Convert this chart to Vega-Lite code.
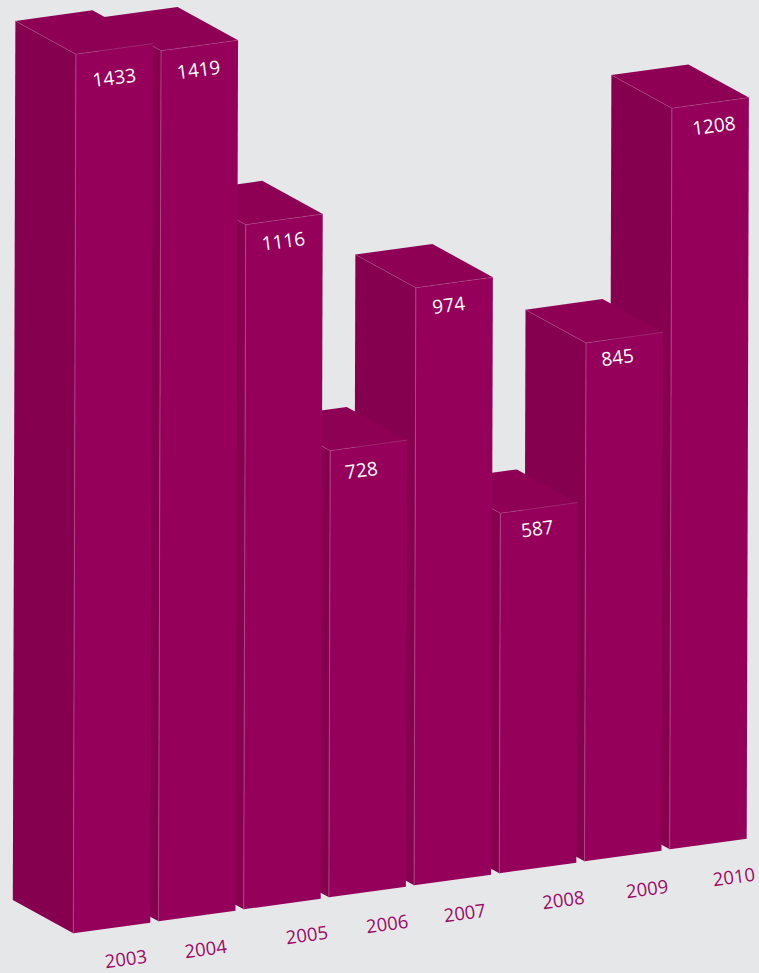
{
  "$schema": "https://vega.github.io/schema/vega-lite/v6.json",
  "width": 759,
  "height": 973,
  "padding": 0,
  "autosize": {"type": "none"},
  "background": "#e6e7e8",
  "config": {"view": {"stroke": null}},
  "data": {
    "values": [
      {"year": 2010, "value": 1208},
      {"year": 2009, "value": 845},
      {"year": 2008, "value": 587},
      {"year": 2007, "value": 974},
      {"year": 2006, "value": 728},
      {"year": 2005, "value": 1116},
      {"year": 2004, "value": 1419},
      {"year": 2003, "value": 1433}
    ]
  },
  "transform": [
    {"calculate": "datum.year - 2003", "as": "i"}
  ],
  "encoding": {
    "x": {"type": "quantitative", "scale": {"domain": [0, 759], "nice": false, "zero": false}, "axis": null},
    "y": {"type": "quantitative", "scale": {"domain": [-64.7, 1521.3], "nice": false, "zero": false}, "axis": null}
  },
  "layer": [
    {
      "transform": [
        {"calculate": "['side','top','front','edge']", "as": "face"},
        {"flatten": ["face"]},
        {"calculate": "{side:['000','001','101','100'],top:['001','101','111','011'],front:['000','010','011','001'],edge:['101','001','000','001','011']}[datum.face]", "as": "corner"},
        {"calculate": "[0,1,2,3,4]", "as": "seq"},
        {"flatten": ["corner", "seq"]},
        {"filter": "isValid(datum.corner)"},
        {"calculate": "datum.year + '-' + datum.face", "as": "poly"},
        {"calculate": "+slice(datum.corner,0,1)", "as": "back"},
        {"calculate": "+slice(datum.corner,1,2)", "as": "right"},
        {"calculate": "+slice(datum.corner,2,3)", "as": "upper"},
        {"calculate": "73.3 + 85.2*datum.i + 77*datum.right - 60.5*datum.back + 0.0018*datum.upper*datum.value", "as": "px"},
        {"calculate": "(12*datum.i + 10.6*datum.right + 33.2*datum.back)/0.6135 + datum.upper*datum.value", "as": "py"}
      ],
      "mark": {"type": "line", "strokeWidth": 0.5, "interpolate": "linear", "clip": false},
      "encoding": {
        "x": {"field": "px"},
        "y": {"field": "py"},
        "detail": {"field": "poly"},
        "order": {"field": "seq"},
        "fill": {
          "field": "face",
          "type": "nominal",
          "legend": null,
          "scale": {"domain": ["side", "top", "front", "edge"], "range": ["#85004f", "#8d0054", "#94005a", "transparent"]}
        },
        "stroke": {
          "field": "face",
          "type": "nominal",
          "legend": null,
          "scale": {"domain": ["side", "top", "front", "edge"], "range": ["transparent", "transparent", "transparent", "#b04a86"]}
        }
      }
    },
    {
      "transform": [
        {"calculate": "[0,-0.9,-0.8,-7.2,-5.6,-1.5,-6.9,3.7][datum.i]", "as": "dx"},
        {"calculate": "[29.5,25,22.5,25.5,23.5,21.5,20.5,23.5][datum.i]", "as": "dy"},
        {"calculate": "73.3 + 85.2*datum.i + 38.5 + 0.0018*datum.value + datum.dx", "as": "px"},
        {"calculate": "(12*datum.i + 5.3 - datum.dy)/0.6135 + datum.value", "as": "py"}
      ],
      "mark": {"type": "text", "font": "Open Sans", "fontSize": 19, "color": "#ffffff", "angle": -7.4, "align": "center", "baseline": "middle"},
      "encoding": {
        "x": {"field": "px"},
        "y": {"field": "py"},
        "text": {"field": "value", "type": "nominal"}
      }
    },
    {
      "transform": [
        {"calculate": "[14,8,23.5,18,10,23,21,22][datum.i]", "as": "dx"},
        {"calculate": "[31.5,33.5,31.5,32.5,33.5,32.5,33.5,33.5][datum.i]", "as": "dy"},
        {"calculate": "73.3 + 85.7*datum.i + 38.75 + datum.dx", "as": "px"},
        {"calculate": "(12*datum.i + 5.3 - datum.dy)/0.6135", "as": "py"}
      ],
      "mark": {"type": "text", "font": "Open Sans", "fontSize": 18.5, "color": "#9c0a66", "angle": -7.4, "align": "center", "baseline": "middle"},
      "encoding": {
        "x": {"field": "px"},
        "y": {"field": "py"},
        "text": {"field": "year", "type": "nominal"}
      }
    }
  ]
}
